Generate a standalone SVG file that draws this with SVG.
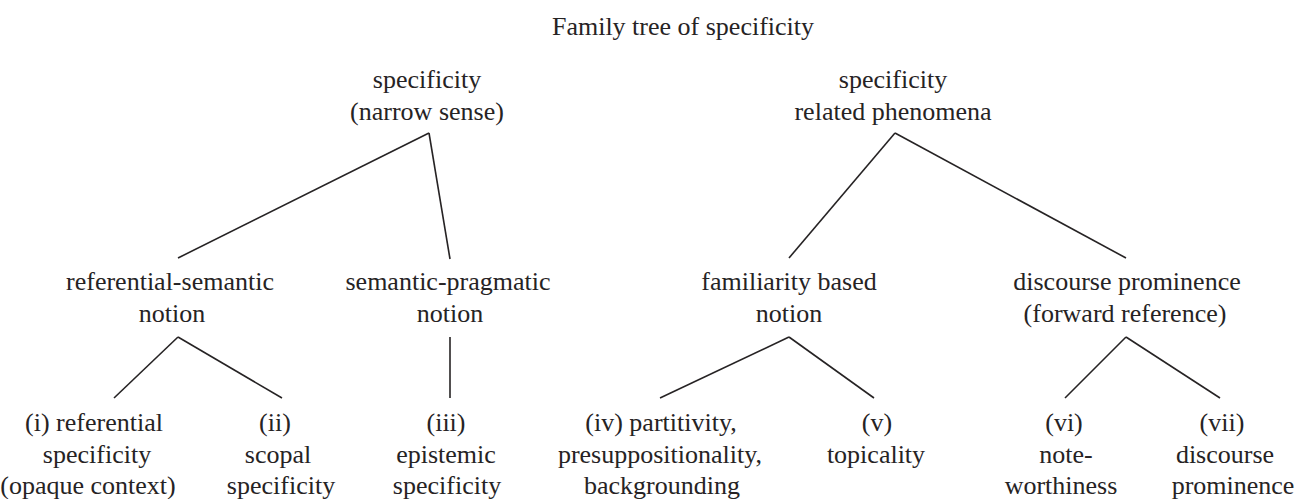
<svg xmlns="http://www.w3.org/2000/svg" width="1298" height="499" viewBox="0 0 1298 499">
<style>
text{font-family:"Liberation Serif","Times New Roman",serif;font-size:26px;fill:#262324;text-anchor:middle}
.c line{stroke:#262324;stroke-width:1.6;fill:none}
</style>
<rect width="1298" height="499" fill="#ffffff"/>
<text id="title" x="683" y="35">Family tree of specificity</text>
<g class="c" id="connectors">
<line x1="429" y1="133" x2="178" y2="258"/>
<line x1="429" y1="133" x2="450" y2="259"/>
<line x1="895" y1="133" x2="789" y2="258"/>
<line x1="895" y1="133" x2="1126" y2="258"/>
<line x1="178" y1="337" x2="114" y2="398"/>
<line x1="178" y1="337" x2="282" y2="398"/>
<line x1="450" y1="337" x2="450" y2="398"/>
<line x1="789" y1="337" x2="660" y2="398"/>
<line x1="789" y1="337" x2="874" y2="398"/>
<line x1="1126" y1="337" x2="1065" y2="398"/>
<line x1="1126" y1="337" x2="1220" y2="398"/>
</g>
<g id="n1"><text x="427" y="88">specificity</text><text x="427" y="120">(narrow sense)</text></g>
<g id="n2"><text x="893" y="88">specificity</text><text x="893" y="120">related phenomena</text></g>
<g id="n3"><text x="170" y="290">referential-semantic</text><text x="172" y="322">notion</text></g>
<g id="n4"><text x="448" y="290">semantic-pragmatic</text><text x="450" y="322">notion</text></g>
<g id="n5"><text x="789" y="290">familiarity based</text><text x="789" y="322">notion</text></g>
<g id="n6"><text x="1127" y="290">discourse prominence</text><text x="1125" y="322">(forward reference)</text></g>
<g id="n7"><text x="94" y="431">(i) referential</text><text x="97" y="463">specificity</text><text x="88" y="494">(opaque context)</text></g>
<g id="n8"><text x="275" y="431">(ii)</text><text x="278" y="463">scopal</text><text x="281" y="494">specificity</text></g>
<g id="n9"><text x="446" y="431">(iii)</text><text x="446" y="463">epistemic</text><text x="447" y="494">specificity</text></g>
<g id="n10"><text x="661" y="431">(iv) partitivity,</text><text x="660" y="463">presuppositionality,</text><text x="662" y="494">backgrounding</text></g>
<g id="n11"><text x="877" y="431">(v)</text><text x="876" y="463">topicality</text></g>
<g id="n12"><text x="1064" y="431">(vi)</text><text x="1066" y="463">note-</text><text x="1061" y="494">worthiness</text></g>
<g id="n13"><text x="1222" y="431">(vii)</text><text x="1225" y="463">discourse</text><text x="1233" y="494">prominence</text></g>
</svg>
